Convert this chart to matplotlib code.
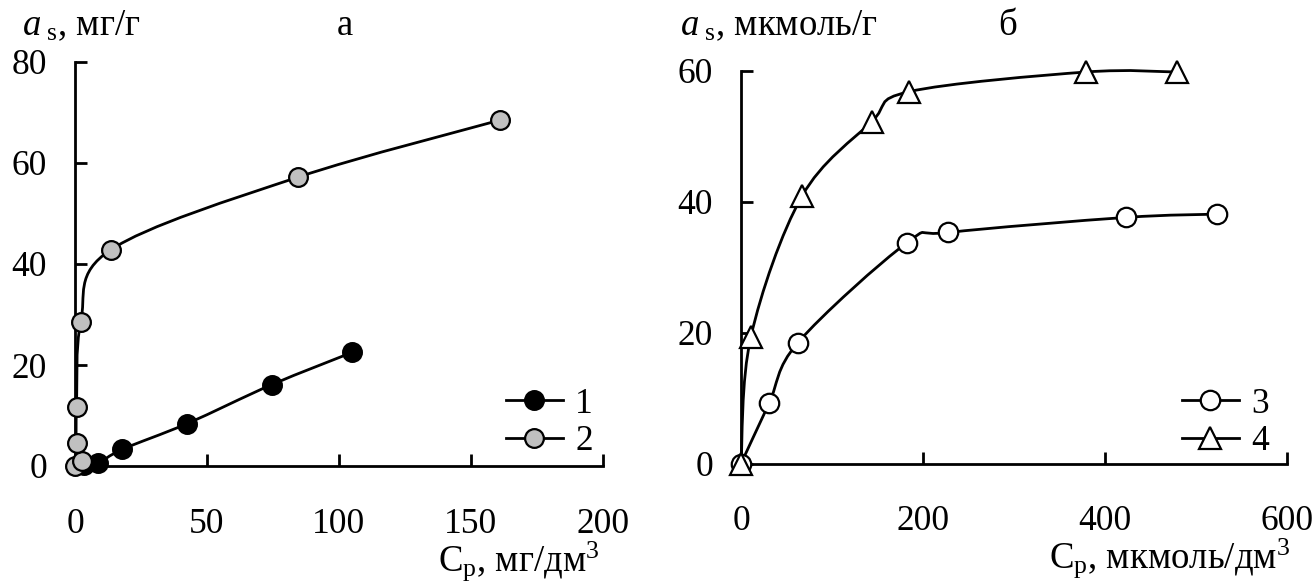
import numpy as np
import matplotlib
matplotlib.use("Agg")
import matplotlib.pyplot as plt
from matplotlib.path import Path
from matplotlib.patches import PathPatch
from matplotlib.lines import Line2D

plt.rcParams['font.family'] = ['Liberation Serif', 'DejaVu Serif']
plt.rcParams['mathtext.fontset'] = 'custom'
plt.rcParams['mathtext.rm'] = 'Liberation Serif'
plt.rcParams['mathtext.it'] = 'Liberation Serif:italic'

# panel a: mg/g vs mg/dm3
c1 = [3.5, 8.6, 17.9, 42.5, 74.5, 105.0]
a1 = [0.1, 0.5, 3.3, 8.4, 16.1, 22.5]
c2 = [0.0, 2.5, 0.6, 0.6, 2.2, 13.5, 84.5, 161.0]
a2 = [0.0, 1.0, 4.5, 11.7, 28.6, 42.8, 57.2, 68.5]

# panel b: umol/g vs umol/dm3
c3 = [0.0, 30.8, 62.6, 182.0, 228.0, 423.0, 522.6]
a3 = [0.0, 9.2, 18.5, 33.7, 35.3, 37.6, 38.1]
c4 = [0.0, 10.9, 66.8, 143.6, 184.8, 379.0, 478.6]
a4 = [0.0, 19.4, 40.8, 52.2, 56.8, 59.8, 59.8]

FS = 25.5
LFS = 26.5
LW = 2.0


def smooth_line(ax, x, y):
    # excel-like smoothed line: catmull-rom turned into cubic bezier segments
    p = np.column_stack([x, y]).astype(float)
    n = len(p)
    verts = [p[0]]
    codes = [Path.MOVETO]
    for i in range(n - 1):
        p0 = p[i - 1] if i > 0 else p[i]
        p3 = p[i + 2] if i + 2 < n else p[i + 1]
        c1_ = p[i] + (p[i + 1] - p0) / 6.0
        c2_ = p[i + 1] - (p3 - p[i]) / 6.0
        verts += [c1_, c2_, p[i + 1]]
        codes += [Path.CURVE4] * 3
    patch = PathPatch(Path(verts, codes), facecolor='none', edgecolor='black',
                      lw=LW, clip_on=False, zorder=2)
    ax.add_patch(patch)


def style_axes(ax, xmax, xstep, ymax, ystep):
    ax.set_xlim(0, xmax)
    ax.set_ylim(0, ymax)
    ax.set_xticks(np.arange(0, xmax + 1, xstep))
    ax.set_yticks(np.arange(0, ymax + 1, ystep))
    for s in ['top', 'right']:
        ax.spines[s].set_visible(False)
    for s in ['left', 'bottom']:
        ax.spines[s].set_linewidth(2.0)
    ax.tick_params(direction='in', length=8.5, width=2.0, labelsize=FS)
    ax.tick_params(axis='x', pad=30)
    ax.tick_params(axis='y', pad=20)


fig = plt.figure(figsize=(13.14, 5.85), dpi=100)
ax1 = fig.add_axes([75 / 1314, 119 / 585, 528 / 1314, 404 / 585])
ax2 = fig.add_axes([741 / 1314, 121.3 / 585, 546 / 1314, 393 / 585])

style_axes(ax1, 200, 50, 80, 20)
style_axes(ax2, 600, 200, 60, 20)

gray = '#c0c0c0'
mk = dict(mew=1.6, mec='black', clip_on=False, zorder=3, ls='none')

smooth_line(ax1, c1, a1)
smooth_line(ax1, c2, a2)
ax1.plot(c1, a1, marker='o', ms=13.5, mfc='black', **mk)
ax1.plot(c2, a2, marker='o', ms=13.5, mfc=gray, **mk)

smooth_line(ax2, c3, a3)
smooth_line(ax2, c4, a4)
ax2.plot(c3, a3, marker='o', ms=14, mfc='white', **mk)
ax2.plot(c4, a4, marker='^', ms=16, mfc='white', **mk)

h1 = [Line2D([], [], color='k', lw=LW, marker='o', ms=13.5, mew=1.6, mec='k', mfc='black'),
      Line2D([], [], color='k', lw=LW, marker='o', ms=13.5, mew=1.6, mec='k', mfc=gray)]
h2 = [Line2D([], [], color='k', lw=LW, marker='o', ms=14, mew=1.6, mec='k', mfc='white'),
      Line2D([], [], color='k', lw=LW, marker='^', ms=16, mew=1.6, mec='k', mfc='white')]

leg_kw = dict(frameon=False, fontsize=FS, handlelength=1.6, handletextpad=0.35,
              labelspacing=0.12, borderpad=0, borderaxespad=0, loc='center left')
ax1.legend(h1, ['1', '2'], bbox_to_anchor=(506 / 1314, 1 - 423 / 585),
           bbox_transform=fig.transFigure, **leg_kw)
ax2.legend(h2, ['3', '4'], bbox_to_anchor=(1182 / 1314, 1 - 423 / 585),
           bbox_transform=fig.transFigure, **leg_kw)

# axis captions and panel letters
fig.text(22 / 1314, 550 / 585, r'$\mathit{a}_{\ \mathrm{s}}$, мг/г', fontsize=LFS, va='baseline')
fig.text(345 / 1314, 550 / 585, 'а', fontsize=LFS, va='baseline', ha='center')
fig.text(680 / 1314, 550 / 585, r'$\mathit{a}_{\ \mathrm{s}}$, мкмоль/г', fontsize=LFS, va='baseline')
fig.text(1008 / 1314, 550 / 585, 'б', fontsize=LFS, va='baseline', ha='center')
fig.text(600 / 1314, 14 / 585, r'C$_\mathrm{p}$, мг/дм$^3$', fontsize=LFS, va='baseline', ha='right')
fig.text(1290 / 1314, 17 / 585, r'C$_\mathrm{p}$, мкмоль/дм$^3$', fontsize=LFS, va='baseline', ha='right')

fig.savefig('out.png', dpi=100)
